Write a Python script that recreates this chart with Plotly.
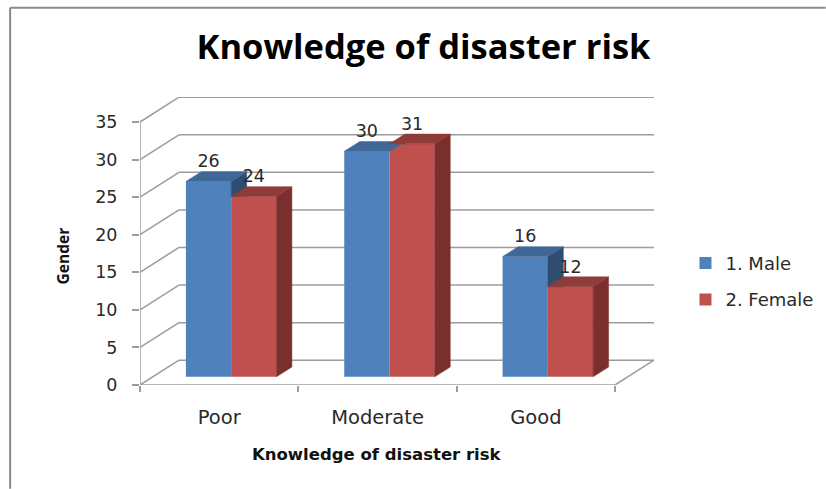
import plotly.graph_objects as go

categories = ["Poor", "Moderate", "Good"]
male = [26, 30, 16]
female = [24, 31, 12]
series_names = ["1. Male", "2. Female"]
y_ticks = [0, 5, 10, 15, 20, 25, 30, 35]
title_text = "Knowledge of disaster risk"
x_title = "Knowledge of disaster risk"
y_title = "Gender"

W, H = 826, 489
L, R, T, B = 139.5, 654.0, 97.2, 385.2          # plot box in pixels
UX = (615.0 - L) / 3                             # pixels per category
UY = (384.5 - 121.5) / 35                        # pixels per value unit
WALL_X, WALL_Y = (R - 615.0) / UX, 24.8 / UY     # depth of the room
BAR_DX, BAR_DY = 15.5 / UX, 9.8 / UY             # depth of a bar
BASE = 8.2 / UY                                  # bars stand inside the floor
BAR_W = 45.3 / UX
SHIFT = 12.0 / UX

BLUE, BLUE_TOP, BLUE_SIDE = "#4F81BD", "#3F6797", "#2F4D71"
RED, RED_TOP, RED_SIDE = "#C0504D", "#8F3B39", "#7A2F2D"
GRID = "#9C9C9C"
TEXT = "#2A2A2A"

def px(x):
    return (x - L) / (R - L)

def py(y):
    return (B - y) / (B - T)

centers = [i + 0.5 + SHIFT for i in range(3)]
xm = [c - BAR_W / 2 for c in centers]
xf = [c + BAR_W / 2 for c in centers]

def poly(xs, ys, color):
    return go.Scatter(x=xs + xs[:1], y=ys + ys[:1], mode="lines", fill="toself",
                      fillcolor=color, line=dict(color=color, width=0.5),
                      showlegend=False, hoverinfo="skip")

fig = go.Figure()
fig.add_trace(go.Bar(x=xm, y=male, base=BASE, width=BAR_W, name=series_names[0],
                     marker=dict(color=BLUE, line_width=0), legendgroup="m"))
fig.add_trace(go.Bar(x=xf, y=female, base=BASE, width=BAR_W, name=series_names[1],
                     marker=dict(color=RED, line_width=0), legendgroup="f"))

# male side faces and tops (the side stops where the female front hides it)
for i in range(3):
    x0, x1 = centers[i] - BAR_W, centers[i]
    top, ftop = BASE + male[i], BASE + female[i]
    fig.add_trace(poly([x1, x1 + BAR_DX, x1 + BAR_DX, x1],
                       [max(top, ftop), max(top + BAR_DY, ftop), ftop, ftop], BLUE_SIDE))
    fig.add_trace(poly([x0, x1, x1 + BAR_DX, x0 + BAR_DX],
                       [top, top, top + BAR_DY, top + BAR_DY], BLUE_TOP))
# female side faces and tops
for i in range(3):
    x0, x1 = centers[i], centers[i] + BAR_W
    top = BASE + female[i]
    fig.add_trace(poly([x1, x1 + BAR_DX, x1 + BAR_DX, x1],
                       [BASE, BASE + BAR_DY, top + BAR_DY, top], RED_SIDE))
    fig.add_trace(poly([x0, x1, x1 + BAR_DX, x0 + BAR_DX],
                       [top, top, top + BAR_DY, top + BAR_DY], RED_TOP))

# data labels
LABEL_UP = 18.5 / UY
fig.add_trace(go.Scatter(
    x=[c - BAR_W / 2 for c in centers] + [c + BAR_W / 2 for c in centers],
    y=[BASE + v + LABEL_UP for v in male] + [BASE + v + LABEL_UP for v in female],
    text=[str(v) for v in male + female], mode="text", textposition="middle center",
    textfont=dict(family="DejaVu Sans", size=17.5, color=TEXT),
    showlegend=False, hoverinfo="skip", cliponaxis=False))

# room: grid lines on side wall and back wall, floor outline
shapes = []
line = dict(color=GRID, width=1.5)
for v in y_ticks:
    shapes.append(dict(type="line", xref="x", yref="y", layer="below", line=line,
                       x0=0, y0=v, x1=WALL_X, y1=v + WALL_Y))
    shapes.append(dict(type="line", xref="x", yref="y", layer="below", line=line,
                       x0=WALL_X, y0=v + WALL_Y, x1=3 + WALL_X, y1=v + WALL_Y))
shapes += [
    dict(type="line", xref="x", yref="y", layer="below", line=line, x0=0, y0=0, x1=0, y1=35),
    dict(type="line", xref="x", yref="y", layer="below", line=line, x0=0, y0=0, x1=3, y1=0),
    dict(type="line", xref="x", yref="y", layer="below", line=line, x0=3, y0=0, x1=3 + WALL_X, y1=WALL_Y),
    # picture frame: left and top edges only
    dict(type="line", xref="paper", yref="paper", layer="below",
         line=dict(color="#8A8A8A", width=2),
         x0=px(9.5), y0=py(8), x1=px(9.5), y1=py(489)),
    dict(type="line", xref="paper", yref="paper", layer="below",
         line=dict(color="#8A8A8A", width=2),
         x0=px(9.5), y0=py(8), x1=px(826), y1=py(8)),
]

annotations = [
    dict(text=f"<b>{x_title}</b>", xref="paper", yref="paper", x=px(376.5), y=py(455),
         showarrow=False, xanchor="center", yanchor="middle",
         font=dict(family="DejaVu Sans", size=16.5, color="#111111")),
    dict(text=f"<b>{y_title}</b>", xref="paper", yref="paper", x=px(62), y=py(256),
         showarrow=False, xanchor="center", yanchor="middle", textangle=-90,
         font=dict(family="Open Sans", size=15.5, color="#111111")),
]

fig.update_layout(
    width=W, height=H, autosize=False,
    paper_bgcolor="white", plot_bgcolor="white",
    margin=dict(l=L, r=W - R, t=T, b=H - B, pad=0, autoexpand=False),
    barmode="overlay",
    title=dict(text=f"<b>{title_text}</b>", x=423.5 / W, xanchor="center",
               y=1 - 47 / H, yanchor="middle",
               font=dict(family="Open Sans", size=34.5, color="#000000")),
    xaxis=dict(range=[0, (R - L) / UX], tickmode="array",
               tickvals=[0.5, 1.5, 2.5], ticktext=categories,
               ticks="", showgrid=False, zeroline=False, showline=False,
               tickfont=dict(family="DejaVu Sans", size=19.5, color=TEXT), ticklabelstandoff=18,
               minor=dict(tickmode="array", tickvals=[0, 1, 2, 3], ticks="outside",
                          ticklen=6, tickcolor=GRID, tickwidth=1.5, showgrid=False)),
    yaxis=dict(range=[0, (B - T) / UY], tickmode="array", tickvals=y_ticks,
               ticks="outside", ticklen=7, tickcolor=GRID, tickwidth=1.5,
               showgrid=False, zeroline=False, showline=False, ticklabelstandoff=11,
               tickfont=dict(family="DejaVu Sans", size=17.5, color=TEXT)),
    legend=dict(x=px(685.5), y=py(245), xanchor="left", yanchor="top",
                font=dict(family="DejaVu Sans", size=18, color=TEXT),
                tracegroupgap=10, bgcolor="rgba(0,0,0,0)", traceorder="grouped"),
    shapes=shapes, annotations=annotations, showlegend=True,
)
fig.write_html("out.html", config=dict(displayModeBar=False),
               post_script="document.body.style.margin='0';document.documentElement.style.overflow='hidden';")
